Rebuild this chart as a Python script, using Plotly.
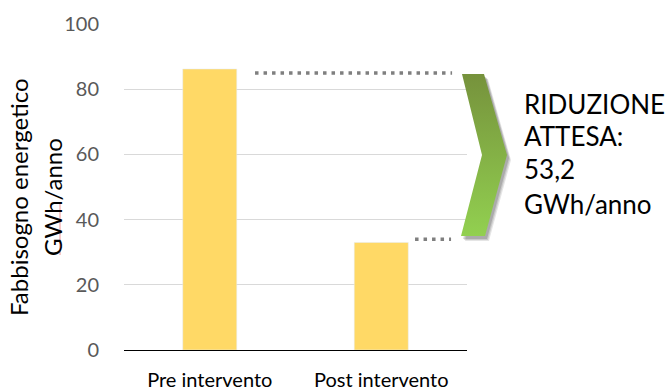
import plotly.graph_objects as go

# ---- data ----
categories = ["Pre intervento", "Post intervento"]
values = [86.2, 33.0]
guide_levels = [85, 34]          # dotted reference levels
y_ticks = [0, 20, 40, 60, 80, 100]
y_title_lines = ["Fabbisogno energetico", "GWh/anno"]
note_lines = ["RIDUZIONE", "ATTESA:", "53,2", "GWh/anno"]

W, H = 670, 390
FONT = "Lato, Carlito, Calibri, sans-serif"

# plot area in pixels
PL, PR, PT, PB = 124, 467, 24, 350

fig = go.Figure()

fig.add_trace(go.Bar(
    x=categories, y=values, marker_color="#FFD966", width=0.315,
    xaxis="x", yaxis="y", showlegend=False, hoverinfo="x+y"))

# chevron (decorative) on a full-figure pixel overlay axis
chev_x = [462, 484, 507, 485, 461, 482, 462]
chev_y = [74, 74, 155, 236, 236, 155, 74]
for dx, dy, a in [(4, 5, 0.10), (3, 4, 0.12), (2, 3, 0.15)]:
    fig.add_trace(go.Scatter(
        x=[v + dx for v in chev_x], y=[v + dy for v in chev_y],
        mode="lines", fill="toself", line=dict(width=0),
        fillcolor=f"rgba(0,0,0,{a})", xaxis="x2", yaxis="y2",
        showlegend=False, hoverinfo="skip"))
fig.add_trace(go.Scatter(
    x=chev_x, y=chev_y, mode="lines", fill="toself", line=dict(width=0),
    fillgradient=dict(type="vertical", start=74, stop=236,
                      colorscale=[[0, "#76923C"], [1, "#92D050"]]),
    xaxis="x2", yaxis="y2", showlegend=False, hoverinfo="skip"))

shapes = [
    dict(type="line", xref="x", yref="y", x0=0.264, x1=1.413,
         y0=guide_levels[0], y1=guide_levels[0],
         line=dict(color="#7F7F7F", width=3.5, dash="3.5px,5px")),
    dict(type="line", xref="x", yref="y", x0=1.197, x1=1.407,
         y0=guide_levels[1], y1=guide_levels[1],
         line=dict(color="#7F7F7F", width=3.5, dash="3.5px,5px")),
    # spell-check mark under "GWh"
    dict(type="line", xref="x2", yref="y2", x0=60, x1=60, y0=202, y1=255,
         line=dict(color="rgba(235,120,120,0.8)", width=1)),
]

annotations = []
for xp, txt in zip([18, 52], y_title_lines):
    annotations.append(dict(
        xref="x2", yref="y2", x=xp, y=197, text=txt, textangle=-90,
        showarrow=False, xanchor="center", yanchor="middle",
        font=dict(family=FONT, size=24, color="#000000")))
for yp, txt in zip([104, 136, 169, 204], note_lines):
    annotations.append(dict(
        xref="x2", yref="y2", x=522, y=yp, text=txt, showarrow=False,
        xanchor="left", yanchor="middle",
        font=dict(family=FONT, size=26, color="#000000")))

fig.update_layout(
    width=W, height=H,
    margin=dict(l=0, r=0, t=0, b=0, autoexpand=False),
    paper_bgcolor="white", plot_bgcolor="rgba(0,0,0,0)",
    font=dict(family=FONT),
    bargap=0.685,
    xaxis=dict(domain=[PL / W, PR / W], anchor="y", type="category",
               range=[-0.5, 1.5], showline=True, linecolor="#000000",
               linewidth=1, showgrid=False, ticks="", ticklabelstandoff=12,
               automargin=False,
               tickfont=dict(family=FONT, size=20, color="#000000")),
    yaxis=dict(domain=[(H - PB) / H, (H - PT) / H], anchor="x",
               range=[0, 100], tickvals=y_ticks, showgrid=True,
               gridcolor="#D9D9D9", gridwidth=1, zeroline=False,
               showline=False, ticks="", ticklabelstandoff=24,
               automargin=False,
               tickfont=dict(family=FONT, size=20, color="#595959")),
    xaxis2=dict(domain=[0, 1], anchor="y2", range=[0, W], visible=False,
                fixedrange=True, automargin=False),
    yaxis2=dict(domain=[0, 1], anchor="x2", range=[H, 0], visible=False,
                fixedrange=True, automargin=False),
    shapes=shapes, annotations=annotations,
)

fig.write_html("out.html")
